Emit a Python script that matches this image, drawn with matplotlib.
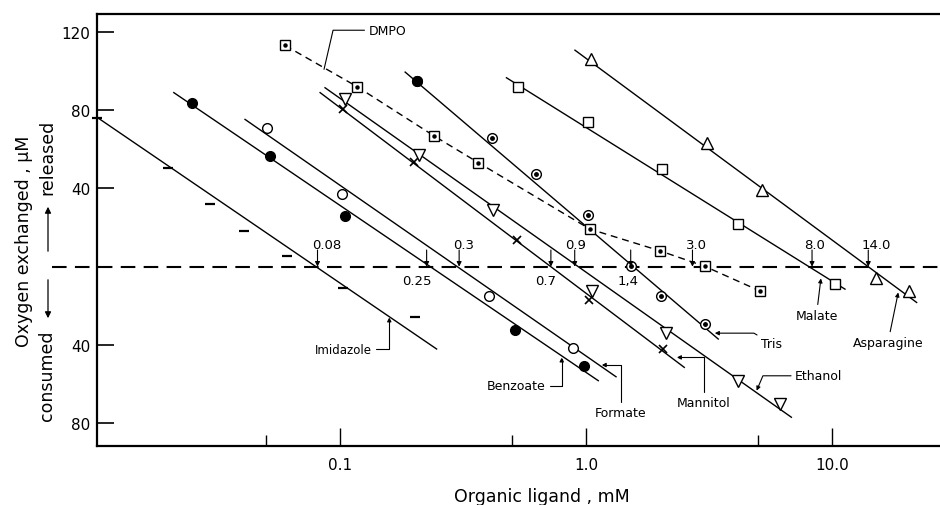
import numpy as np
import matplotlib
matplotlib.use('Agg')
import matplotlib.pyplot as plt
from matplotlib.ticker import FixedLocator, FixedFormatter, NullFormatter


# measured points: ligand [mM] vs oxygen exchanged [uM] (+ released, - consumed)
imidazole_x = [0.0103, 0.0200, 0.0296, 0.0408, 0.0607, 0.103, 0.202]
imidazole_y = [76.0, 50.7, 31.9, 18.3, 5.2, -11.1, -25.9]
benzoate_x = [0.0251, 0.0517, 0.105, 0.514, 0.982]
benzoate_y = [83.9, 56.6, 25.9, -32.4, -50.7]
formate_x = [0.0506, 0.102, 0.404, 0.887]
formate_y = [70.7, 37.4, -15.2, -41.6]
mannitol_x = [0.103, 0.199, 0.522, 1.03, 2.06]
mannitol_y = [80.8, 53.5, 13.5, -17.1, -42.1]
ethanol_x = [0.105, 0.210, 0.420, 1.055, 2.11, 4.16, 6.15]
ethanol_y = [85.9, 56.9, 28.9, -12.3, -34.1, -58.3, -70.2]
tris_x = [0.205, 0.414, 0.625, 1.02, 1.52, 2.01, 3.05]
tris_y = [94.9, 66.0, 47.2, 26.5, 0.4, -14.9, -29.4]
malate_x = [0.531, 1.02, 2.04, 4.14, 10.3]
malate_y = [91.8, 74.2, 49.8, 21.7, -8.9]
asparagine_x = [1.048, 3.11, 5.21, 15.1, 20.5]
asparagine_y = [106.0, 63.4, 39.2, -6.0, -12.4]
dmpo_x = [0.0598, 0.1175, 0.2416, 0.365, 1.038, 2.0, 3.05, 5.09]
dmpo_y = [113.1, 92.0, 66.8, 53.2, 19.2, 8.1, 0.1, -12.4]

# straight fitted lines, end points
imidazole_fit_x = [0.01028, 0.247]
imidazole_fit_y = [76.4, -42.1]
benzoate_fit_x = [0.0211, 1.122]
benzoate_fit_y = [89.0, -58.3]
formate_fit_x = [0.0411, 1.325]
formate_fit_y = [75.3, -56.3]
mannitol_fit_x = [0.083, 2.51]
mannitol_fit_y = [89.0, -51.5]
ethanol_fit_x = [0.0869, 6.84]
ethanol_fit_y = [91.5, -77.0]
tris_fit_x = [0.184, 3.45]
tris_fit_y = [99.5, -37.0]
malate_fit_x = [0.475, 11.3]
malate_fit_y = [96.6, -11.5]
asparagine_fit_x = [0.902, 22.1]
asparagine_fit_y = [110.7, -18.3]

# zero crossings marked with arrows
cross_x = [0.081, 0.225, 0.305, 0.72, 0.90, 1.52, 2.71, 8.3, 14.05]
cross_labels = ['0.08', '0.25', '0.3', '0.7', '0.9', '1,4', '3.0', '8.0', '14.0']

y_tick_values = [-80, -40, 40, 80, 120]
y_tick_labels = ['80', '40', '40', '80', '120']
x_major = [0.1, 1.0, 10.0]
x_major_labels = ['0.1', '1.0', '10.0']
x_minor = [0.05, 0.5, 5.0]


W, H = 940, 506


def fpx(px, py):
    """Pixel position to figure fraction.
    """
    
    return px / W, 1 - py / H


def lead(ax, text, xy, xytext, conn, head=True, fs=9):
    """Series name with a leader line.
    """
    
    style = '-|>' if head else '-'
    ax.annotate(text, xy=xy, xytext=xytext, ha='center', va='center', fontsize=fs,
                arrowprops=dict(arrowstyle=style, color='k', lw=0.8, mutation_scale=6,
                                shrinkA=1, shrinkB=0, connectionstyle=conn))
    
    return


fig = plt.figure(figsize=(W / 100, H / 100), dpi=100)
ax = fig.add_axes([97 / W, 1 - 447 / H, (W - 97) / W, (447 - 15) / H])
ax.set_xscale('log')
ax.set_xlim(0.01028, 27.5)
ax.set_ylim(-91.7, 129.2)

lw = 1.0
for fx, fy in [(imidazole_fit_x, imidazole_fit_y), (benzoate_fit_x, benzoate_fit_y),
               (formate_fit_x, formate_fit_y), (mannitol_fit_x, mannitol_fit_y),
               (ethanol_fit_x, ethanol_fit_y), (tris_fit_x, tris_fit_y),
               (malate_fit_x, malate_fit_y), (asparagine_fit_x, asparagine_fit_y)]:
    
    ax.plot(fx, fy, color='k', lw=lw, zorder=2)

ax.plot(dmpo_x, dmpo_y, color='k', lw=1.0, ls=(0, (5, 3.5)), zorder=2)

open_kw = dict(ls='none', mfc='white', mec='k', mew=1.0, zorder=3)
ax.plot(imidazole_x, imidazole_y, ls='none', marker='_', ms=7, mew=1.6, color='k', clip_on=False, zorder=3)
ax.plot(benzoate_x, benzoate_y, ls='none', marker='o', ms=7, color='k', zorder=3)
ax.plot(formate_x, formate_y, marker='o', ms=7, **open_kw)
ax.plot(mannitol_x, mannitol_y, ls='none', marker='x', ms=6, mew=1.2, color='k', zorder=3)
ax.plot(ethanol_x, ethanol_y, marker='v', ms=8, **open_kw)
ax.plot(tris_x, tris_y, marker='o', ms=7, **open_kw)
ax.plot(tris_x[1:], tris_y[1:], ls='none', marker='o', ms=2.5, color='k', zorder=4)
ax.plot(tris_x[:1], tris_y[:1], ls='none', marker='o', ms=7, color='k', zorder=4)
ax.plot(malate_x, malate_y, marker='s', ms=7, **open_kw)
ax.plot(asparagine_x, asparagine_y, marker='^', ms=8, **open_kw)
ax.plot(dmpo_x, dmpo_y, marker='s', ms=6.5, **open_kw)
ax.plot(dmpo_x, dmpo_y, ls='none', marker='o', ms=2.2, color='k', zorder=4)

# zero line, runs out past the left spine
ax.plot([-0.0534, 1.0], [0, 0], color='k', lw=1.5, ls=(0, (7, 4)),
        transform=ax.get_yaxis_transform(), clip_on=False, zorder=1)

label_dx = [6.5, -7, 3, -3.5, 0.7, -2, 3, 1.5, 6]
label_below = [False, True, False, True, False, True, False, False, False]
for xc, lab, dx, below in zip(cross_x, cross_labels, label_dx, label_below):
    
    ax.annotate('', xy=(xc, 0), xytext=(0, 12), textcoords='offset points',
                arrowprops=dict(arrowstyle='-|>', color='k', lw=0.8, mutation_scale=7,
                                shrinkA=0, shrinkB=0))
    dy = -10 if below else 16
    ax.annotate(lab, xy=(xc, 0), xytext=(dx, dy), textcoords='offset points',
                ha='center', va='center', fontsize=9.5)

lead(ax, 'Imidazole', (0.1586, -25.9), (0.1029, -42.1), 'angle,angleA=0,angleB=90,rad=0', fs=8.5)
lead(ax, 'Benzoate', (0.797, -46.4), (0.522, -60.9), 'angle,angleA=0,angleB=90,rad=0')
lead(ax, 'Formate', (1.158, -50.3), (1.387, -74.8), 'angle,angleA=90,angleB=0,rad=0')
lead(ax, 'Mannitol', (2.34, -46.4), (3.02, -69.7), 'angle,angleA=90,angleB=0,rad=0')
lead(ax, 'Ethanol', (4.94, -63.4), (8.85, -55.8), 'angle,angleA=0,angleB=67,rad=0')
lead(ax, 'Tris', (3.34, -34.0), (5.68, -39.2), 'angle,angleA=150,angleB=0,rad=0')
lead(ax, 'Malate', (9.02, -6.0), (8.65, -24.8), 'arc3,rad=0')
lead(ax, 'Asparagine', (18.6, -13.2), (16.9, -38.7), 'arc3,rad=0')
lead(ax, 'DMPO', (0.0861, 100.9), (0.156, 120.9), 'angle,angleA=0,angleB=77,rad=0', head=False)

ax.xaxis.set_major_locator(FixedLocator(x_major))
ax.xaxis.set_major_formatter(FixedFormatter(x_major_labels))
ax.xaxis.set_minor_locator(FixedLocator(x_minor))
ax.xaxis.set_minor_formatter(NullFormatter())
ax.yaxis.set_major_locator(FixedLocator(y_tick_values))
ax.yaxis.set_major_formatter(FixedFormatter(y_tick_labels))
ax.yaxis.set_minor_locator(FixedLocator([]))
ax.tick_params(axis='x', which='major', direction='in', length=13, width=1.0, pad=8, labelsize=11)
ax.tick_params(axis='x', which='minor', direction='in', length=8, width=1.0)
ax.tick_params(axis='y', which='major', direction='in', length=12, width=1.2, pad=5, labelsize=11)

for side in ['left', 'top', 'bottom']:
    
    ax.spines[side].set_linewidth(1.6)

ax.spines['right'].set_visible(False)

fig.text(*fpx(542, 497), 'Organic ligand , mM', ha='center', va='center', fontsize=12.5)
fig.text(*fpx(24, 241), 'Oxygen exchanged , \u03bcM', ha='center', va='center',
         rotation=90, fontsize=12.5)
fig.text(*fpx(47, 157), 'released', ha='center', va='center', rotation=90, fontsize=12.5)
fig.text(*fpx(47, 376), 'consumed', ha='center', va='center', rotation=90, fontsize=12.5)
fig.add_artist(matplotlib.patches.FancyArrowPatch(fpx(48, 255), fpx(48, 205), transform=fig.transFigure,
                                                  arrowstyle='-|>', mutation_scale=9, lw=0.9, color='k'))
fig.add_artist(matplotlib.patches.FancyArrowPatch(fpx(48, 278), fpx(48, 322), transform=fig.transFigure,
                                                  arrowstyle='-|>', mutation_scale=9, lw=0.9, color='k'))

fig.savefig('out.png', dpi=100)
plt.close(fig)
